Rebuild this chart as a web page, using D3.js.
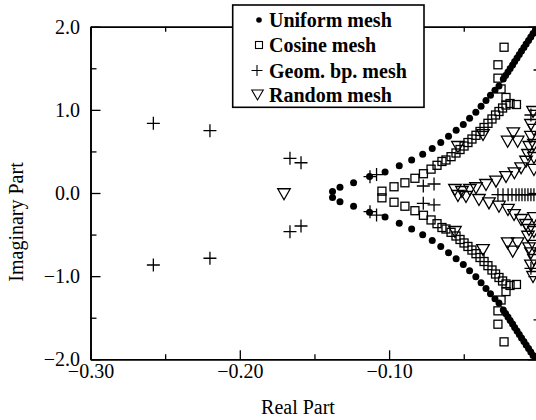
<!DOCTYPE html>
<html><head><meta charset="utf-8">
<script src="https://cdn.jsdelivr.net/npm/d3@7"></script>
<style>
body{margin:0;background:#fff}
text{font-family:"Liberation Serif","Times New Roman",serif}
</style>
</head><body>
<svg id="chart" width="536" height="420"></svg>
<script>
// ---- data ----
const uniformRe = [-0.1379,-0.1329,-0.1238,-0.1131,-0.1027,-0.0932,-0.0849,-0.0775,-0.0711,-0.0654,-0.0602,-0.0551,-0.0503,-0.0461,-0.0419,-0.0384,-0.0351,-0.0321,-0.0291,-0.0264,
 -0.0235,-0.0220,-0.0204,-0.0189,-0.0173,-0.0159,-0.0143,-0.0128,-0.0113,-0.0097,-0.0082,-0.0066,-0.0051,-0.0036,-0.0020,-0.0005,
 -0.1379,-0.1329,-0.1238,-0.1131,-0.1027,-0.0932,-0.0849,-0.0775,-0.0711,-0.0654,-0.0602,-0.0551,-0.0503,-0.0461,-0.0419,-0.0384,-0.0351,-0.0321,-0.0291,-0.0264,
 -0.0235,-0.0220,-0.0204,-0.0189,-0.0173,-0.0159,-0.0143,-0.0128,-0.0113,-0.0097,-0.0082,-0.0066,-0.0051,-0.0036,-0.0020];
const uniformIm = [0.018,0.069,0.124,0.197,0.253,0.328,0.398,0.467,0.535,0.607,0.684,0.755,0.824,0.900,0.972,1.044,1.112,1.176,1.236,1.287,
 1.371,1.413,1.455,1.497,1.539,1.581,1.624,1.666,1.708,1.750,1.792,1.834,1.876,1.918,1.960,2.002,
 -0.054,-0.105,-0.160,-0.233,-0.289,-0.364,-0.434,-0.503,-0.571,-0.643,-0.720,-0.791,-0.860,-0.936,-1.008,-1.080,-1.149,-1.212,-1.272,-1.323,
 -1.407,-1.449,-1.491,-1.533,-1.575,-1.618,-1.660,-1.702,-1.744,-1.786,-1.828,-1.870,-1.912,-1.954,-1.996];

const cosineRe = [-0.1048,-0.0967,-0.0894,-0.0827,-0.0770,-0.0719,-0.0679,-0.0646,-0.0619,-0.0585,-0.0552,-0.0525,-0.0498,-0.0472,-0.0445,-0.0418,-0.0391,-0.0364,-0.0338,-0.0311,-0.0287,-0.0264,-0.0240,-0.0217,-0.0190,-0.0147,-0.0217,-0.0250,-0.0271,-0.0271,-0.0230,
 -0.1048,-0.0967,-0.0894,-0.0827,-0.0770,-0.0719,-0.0679,-0.0646,-0.0619,-0.0585,-0.0552,-0.0525,-0.0498,-0.0472,-0.0445,-0.0418,-0.0391,-0.0364,-0.0338,-0.0311,-0.0287,-0.0264,-0.0240,-0.0217,-0.0190,-0.0147,-0.0217,-0.0250,-0.0271,-0.0271,-0.0230];
const cosineIm = [0.022,0.075,0.123,0.177,0.232,0.287,0.333,0.379,0.397,0.437,0.481,0.523,0.565,0.607,0.649,0.694,0.740,0.788,0.838,0.890,0.938,0.980,1.022,1.058,1.076,1.064,1.149,1.251,1.381,1.542,1.753,
 -0.058,-0.111,-0.159,-0.213,-0.268,-0.324,-0.369,-0.415,-0.433,-0.473,-0.517,-0.559,-0.601,-0.643,-0.686,-0.730,-0.776,-0.824,-0.874,-0.926,-0.974,-1.016,-1.058,-1.094,-1.112,-1.100,-1.185,-1.287,-1.417,-1.578,-1.790];

const geomRe = [-0.2579,-0.2579,-0.2200,-0.2200,-0.1664,-0.1664,-0.1590,-0.1590,-0.1128,-0.1084,-0.1128,-0.1084,-0.0771,-0.0699,-0.0771,-0.0699,-0.0050,-0.0050,0.0011,0.0011,
 -0.0271,-0.0237,-0.0203,-0.0177,-0.0150,-0.0130,-0.0110,-0.0090,-0.0070,-0.0050,-0.0030];
const geomIm = [0.838,-0.866,0.749,-0.785,0.417,-0.465,0.364,-0.397,0.196,0.222,-0.225,-0.265,0.084,0.108,-0.124,-0.144,0.938,-0.906,1.479,-1.527,
 -0.02,-0.02,-0.02,-0.02,-0.02,-0.02,-0.02,-0.02,-0.02,-0.02,-0.02];

const randomRe = [-0.1704,
 -0.0559,-0.0539,-0.0512,-0.0485,-0.0459,
 -0.0418,-0.0351,-0.0284,-0.0217,-0.0161,-0.0116,-0.0083,-0.0070,-0.0061,-0.0050,-0.0050,-0.0036,
 -0.0398,-0.0331,-0.0264,-0.0204,-0.0163,-0.0116,-0.0083,-0.0063,-0.0070,-0.0063,-0.0050,-0.0050,-0.0036,
 -0.0030,-0.0030,-0.0030,-0.0030,-0.0030,-0.0030,-0.0030,-0.0030,
 -0.0168,-0.0206,-0.0139,-0.0172,-0.0206,-0.0139,
 -0.0539,-0.0371,-0.0559,-0.0371];
const randomIm = [-0.015,
 0.036,-0.036,0.012,-0.048,0.036,
 0.057,0.096,0.136,0.192,0.237,0.297,0.376,0.457,0.553,0.674,0.818,0.974,
 -0.084,-0.124,-0.165,-0.204,-0.265,-0.325,-0.385,-0.445,-0.526,-0.665,-0.725,-0.873,-1.010,
 0.277,0.421,0.577,0.758,-0.301,-0.469,-0.637,-0.806,
 0.718,0.617,0.617,-0.706,-0.605,-0.605,
 0.553,0.697,-0.469,-0.686];

const legendLabels = ["Uniform mesh","Cosine mesh","Geom. bp. mesh","Random mesh"];
const xMajorTicks = [-0.30,-0.20,-0.10];
const xMinorTicks = [-0.25,-0.15,-0.05];
const yMajorTicks = [-2.0,-1.0,0.0,1.0,2.0];
const yMinorTicks = [-1.5,-0.5,0.5,1.5];

// ---- drawing ----
const svg = d3.select("#chart");
const L = 90.5, R = 538.4, T = 26.7, B = 359.3;
const x = d3.scaleLinear().domain([-0.30, 0.0]).range([L, R]);
const y = d3.scaleLinear().domain([-2.0, 2.0]).range([B, T]);

svg.append("defs").append("clipPath").attr("id","plotclip")
  .append("rect").attr("x", L).attr("y", T).attr("width", 560 - L).attr("height", B - T);

function styleAxis(g){
  g.selectAll("path.domain").attr("stroke","#000").attr("stroke-width",1.6);
  g.selectAll(".tick line").attr("stroke","#000").attr("stroke-width",1.3);
  g.selectAll("text").attr("font-size",20).attr("fill","#000")
    .style("font-family",'"Liberation Serif","Times New Roman",serif');
}

// bottom axis
const gxB = svg.append("g").attr("transform",`translate(0,${B})`)
  .call(d3.axisBottom(x).tickValues(xMajorTicks).tickFormat(d3.format(".2f"))
    .tickSizeInner(-9).tickSizeOuter(0).tickPadding(4.5));
styleAxis(gxB);
const gxBm = svg.append("g").attr("transform",`translate(0,${B})`)
  .call(d3.axisBottom(x).tickValues(xMinorTicks).tickFormat("").tickSizeInner(-5).tickSizeOuter(0));
styleAxis(gxBm);
// top axis
const gxT = svg.append("g").attr("transform",`translate(0,${T})`)
  .call(d3.axisTop(x).tickValues(xMajorTicks).tickFormat("").tickSizeInner(-9).tickSizeOuter(0));
styleAxis(gxT);
const gxTm = svg.append("g").attr("transform",`translate(0,${T})`)
  .call(d3.axisTop(x).tickValues(xMinorTicks).tickFormat("").tickSizeInner(-5).tickSizeOuter(0));
styleAxis(gxTm);
// left axis
const gyL = svg.append("g").attr("transform",`translate(${L},0)`)
  .call(d3.axisLeft(y).tickValues(yMajorTicks).tickFormat(d3.format(".1f"))
    .tickSizeInner(-10).tickSizeOuter(0).tickPadding(10.5));
styleAxis(gyL);
const gyLm = svg.append("g").attr("transform",`translate(${L},0)`)
  .call(d3.axisLeft(y).tickValues(yMinorTicks).tickFormat("").tickSizeInner(-6).tickSizeOuter(0));
styleAxis(gyLm);
// right axis (falls at the cropped edge)
const gyR = svg.append("g").attr("transform",`translate(${R},0)`)
  .call(d3.axisRight(y).tickValues(yMajorTicks).tickFormat("").tickSizeInner(-10).tickSizeOuter(0));
styleAxis(gyR);

// axis titles
svg.append("text").attr("x",298).attr("y",414).attr("text-anchor","middle")
  .attr("font-size",20).text("Real Part");
svg.append("text").attr("transform","translate(23,222) rotate(-90)").attr("text-anchor","middle")
  .attr("font-size",20).text("Imaginary Part");

// marks
const plot = svg.append("g").attr("clip-path","url(#plotclip)");
const sw = 1.3;
const uni = d3.zip(uniformRe, uniformIm);
const cos = d3.zip(cosineRe, cosineIm);
const geo = d3.zip(geomRe, geomIm);
const rnd = d3.zip(randomRe, randomIm);

function triPath(w,h){ return `M${-w/2},${-h/2}L${w/2},${-h/2}L0,${h/2}Z`; }
function plusPath(a){ return `M${-a},0L${a},0M0,${-a}L0,${a}`; }

plot.append("g").selectAll("rect").data(cos).join("rect")
  .attr("x",d=>x(d[0])-4).attr("y",d=>y(d[1])-4).attr("width",8).attr("height",8)
  .attr("fill","none").attr("stroke","#000").attr("stroke-width",sw);
plot.append("g").selectAll("path").data(rnd).join("path")
  .attr("transform",d=>`translate(${x(d[0])},${y(d[1])})`).attr("d",triPath(12.5,11))
  .attr("fill","none").attr("stroke","#000").attr("stroke-width",sw).attr("stroke-linejoin","miter");
plot.append("g").selectAll("path").data(geo).join("path")
  .attr("transform",d=>`translate(${x(d[0])},${y(d[1])})`).attr("d",plusPath(6.5))
  .attr("fill","none").attr("stroke","#000").attr("stroke-width",sw);
plot.append("g").selectAll("circle").data(uni).join("circle")
  .attr("cx",d=>x(d[0])).attr("cy",d=>y(d[1])).attr("r",3.5).attr("fill","#000");

// legend
const lg = svg.append("g");
lg.append("rect").attr("x",232.7).attr("y",5).attr("width",191.3).attr("height",102.3)
  .attr("fill","#fff").attr("stroke","#000").attr("stroke-width",1.6);
const rowY = [20, 45, 70.5, 95];
legendLabels.forEach((lab,i)=>{
  lg.append("text").attr("x",269).attr("y",rowY[i]+7).attr("font-size",20)
    .attr("font-weight","bold").text(lab);
});
lg.append("circle").attr("cx",259).attr("cy",rowY[0]).attr("r",2.8).attr("fill","#000");
lg.append("rect").attr("x",255.5).attr("y",rowY[1]-3.5).attr("width",7).attr("height",7)
  .attr("fill","none").attr("stroke","#000").attr("stroke-width",1.1);
lg.append("path").attr("transform",`translate(257,${rowY[2]})`).attr("d",plusPath(5.5))
  .attr("stroke","#000").attr("stroke-width",1.1);
lg.append("path").attr("transform",`translate(257.5,${rowY[3]})`).attr("d",triPath(11.5,10))
  .attr("fill","none").attr("stroke","#000").attr("stroke-width",1.1);
</script>
</body></html>
